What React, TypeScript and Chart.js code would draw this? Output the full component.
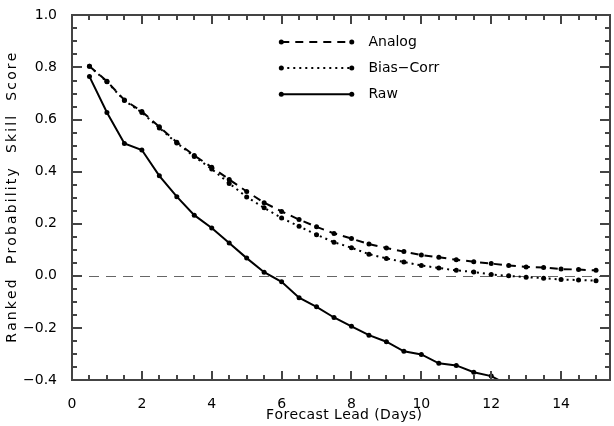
import React, { useEffect, useRef } from 'react';
import { Chart, registerables } from 'chart.js';

Chart.register(...registerables);

// ---- data ----
const leadDays = [0.5, 1, 1.5, 2, 2.5, 3, 3.5, 4, 4.5, 5, 5.5, 6, 6.5, 7, 7.5, 8, 8.5, 9, 9.5, 10, 10.5, 11, 11.5, 12, 12.5, 13, 13.5, 14, 14.5, 15];
const analog = [0.805, 0.747, 0.675, 0.631, 0.572, 0.513, 0.462, 0.417, 0.370, 0.324, 0.281, 0.247, 0.216, 0.188, 0.163, 0.143, 0.122, 0.107, 0.093, 0.080, 0.071, 0.062, 0.054, 0.047, 0.040, 0.034, 0.032, 0.026, 0.024, 0.021];
const biasCorr = [0.805, 0.745, 0.673, 0.627, 0.568, 0.510, 0.458, 0.410, 0.355, 0.303, 0.261, 0.222, 0.190, 0.158, 0.129, 0.108, 0.083, 0.067, 0.053, 0.040, 0.030, 0.021, 0.015, 0.005, 0.000, -0.005, -0.009, -0.014, -0.016, -0.019];
const raw = [0.765, 0.627, 0.508, 0.483, 0.384, 0.304, 0.233, 0.184, 0.126, 0.068, 0.014, -0.023, -0.084, -0.119, -0.160, -0.194, -0.228, -0.253, -0.290, -0.302, -0.336, -0.344, -0.370, -0.385, -0.420, null, null, null, null, null];

const seriesNames = ['Analog', 'Bias\u2212Corr', 'Raw'];
const seriesDashes = [[8, 6], [2, 4], []];

const X_MIN = 0;
const X_MAX = 15.4;
const X_STEP = 2;
const Y_MIN = -0.4;
const Y_MAX = 1.0;
const Y_STEP = 0.2;

const xTitle = 'Forecast Lead (Days)';
const yTitle = 'Ranked  Probability  Skill  Score';

const FONT = '"DejaVu Sans", sans-serif';
const INK = '#000';
const AXIS = '#444';

function fmtY(v: number) {
  const s = Math.abs(v).toFixed(1);
  return v < -1e-9 ? '\u2212' + s : s;
}

// draws text with extra spacing between glyphs so it spans `target` px, centred on (cx, cy)
function drawSpaced(ctx: any, text: string, target: number, cx: number, cy: number) {
  const chars = Array.from(text);
  const widths = chars.map((c) => ctx.measureText(c).width);
  const natural = widths.reduce((s, w) => s + w, 0);
  const gap = chars.length > 1 ? Math.max(0, (target - natural) / (chars.length - 1)) : 0;
  let x = cx - (natural + gap * (chars.length - 1)) / 2;
  ctx.textAlign = 'left';
  chars.forEach((c, i) => {
    ctx.fillText(c, x, cy);
    x += widths[i] + gap;
  });
}

const framePlugin = {
  id: 'frame',
  beforeDatasetsDraw(chart: any) {
    const { ctx, chartArea: a, scales } = chart;
    const y0 = scales.y.getPixelForValue(0);
    ctx.save();
    ctx.strokeStyle = '#666';
    ctx.lineWidth = 1;
    ctx.setLineDash([10, 7]);
    ctx.beginPath();
    ctx.moveTo(a.left, Math.round(y0) + 0.5);
    ctx.lineTo(a.right, Math.round(y0) + 0.5);
    ctx.stroke();
    ctx.restore();
  },
  afterDraw(chart: any) {
    const { ctx, chartArea: a, scales } = chart;
    const xs = scales.x;
    const ys = scales.y;
    const L = Math.round(a.left);
    const R = Math.round(a.right);
    const T = Math.round(a.top);
    const B = Math.round(a.bottom);
    ctx.save();
    ctx.setLineDash([]);
    ctx.fillStyle = AXIS;
    // inward tick marks on all four sides
    for (let i = 0; X_MIN + i * 0.5 <= X_MAX + 1e-9; i++) {
      const px = Math.round(xs.getPixelForValue(X_MIN + i * 0.5));
      const len = i % 4 === 0 ? 9 : 5;
      ctx.fillRect(px - 1, B - len, 2, len);
      ctx.fillRect(px - 1, T, 2, len);
    }
    for (let i = 0; Y_MIN + i * 0.05 <= Y_MAX + 1e-9; i++) {
      const py = Math.round(ys.getPixelForValue(Y_MIN + i * 0.05));
      const len = i % 4 === 0 ? 10 : 5;
      ctx.fillRect(L, py - 1, len, 2);
      ctx.fillRect(R - len, py - 1, len, 2);
    }
    // frame
    ctx.fillRect(L - 1, T - 1, 2, B - T + 2);
    ctx.fillRect(R - 1, T - 1, 2, B - T + 2);
    ctx.fillRect(L - 1, T - 1, R - L + 2, 2);
    ctx.fillRect(L - 1, B - 1, R - L + 2, 2);

    // axis titles
    const w = a.right - a.left;
    const h = a.bottom - a.top;
    ctx.fillStyle = INK;
    ctx.font = '14px ' + FONT;
    ctx.textBaseline = 'middle';
    drawSpaced(ctx, xTitle, 156, a.left + w / 2 + 3, 415);
    ctx.save();
    ctx.translate(12, a.top + h * 0.50);
    ctx.rotate(-Math.PI / 2);
    drawSpaced(ctx, yTitle, 290, 0, 0);
    ctx.restore();

    // legend
    const x1 = a.left + w * 0.389;
    const x2 = a.left + w * 0.520;
    const tx = a.left + w * 0.551;
    ctx.font = '14px ' + FONT;
    ctx.textAlign = 'left';
    seriesNames.forEach((name, k) => {
      const py = a.top + h * (0.073 + k * 0.0715);
      ctx.strokeStyle = INK;
      ctx.lineWidth = 2;
      ctx.setLineDash(seriesDashes[k]);
      ctx.beginPath();
      ctx.moveTo(x1, py);
      ctx.lineTo(x2, py);
      ctx.stroke();
      ctx.setLineDash([]);
      ctx.fillStyle = INK;
      [x1, x2].forEach((mx) => {
        ctx.beginPath();
        ctx.arc(mx, py, 2.5, 0, Math.PI * 2);
        ctx.fill();
      });
      ctx.fillText(name, tx, py);
    });
    ctx.restore();
  },
};

export default function App() {
  const ref = useRef<HTMLCanvasElement | null>(null);
  useEffect(() => {
    if (!ref.current) return;
    const series = [analog, biasCorr, raw];
    const chart = new Chart(ref.current, {
      type: 'line',
      data: {
        datasets: series.map((vals, k) => ({
          label: seriesNames[k],
          data: leadDays.map((d, i) => ({ x: d, y: vals[i] })),
          borderColor: INK,
          backgroundColor: INK,
          borderWidth: 2,
          borderDash: seriesDashes[k],
          pointRadius: 2.5,
          pointBorderWidth: 0,
          pointBackgroundColor: INK,
          fill: false,
          tension: 0,
          spanGaps: false,
        })),
      },
      options: {
        animation: false,
        responsive: false,
        devicePixelRatio: 1,
        layout: { padding: { left: 0, top: 7, right: 2, bottom: 0 } },
        plugins: { legend: { display: false }, tooltip: { enabled: false } },
        scales: {
          x: {
            type: 'linear',
            min: X_MIN,
            max: X_MAX,
            grid: { display: false },
            border: { display: false },
            ticks: {
              stepSize: X_STEP,
              includeBounds: false,
              maxRotation: 0,
              padding: 8,
              color: INK,
              font: { family: FONT, size: 14 },
            },
            title: { display: false },
            afterFit: (s: any) => { s.height = 46; },
          },
          y: {
            type: 'linear',
            min: Y_MIN,
            max: Y_MAX,
            grid: { display: false },
            border: { display: false },
            ticks: {
              stepSize: Y_STEP,
              padding: 7,
              color: INK,
              font: { family: FONT, size: 14 },
              callback: (v: any) => fmtY(Number(v)),
            },
            title: { display: false },
            afterFit: (s: any) => { s.width = 72; },
          },
        },
      },
      plugins: [framePlugin],
    });
    return () => chart.destroy();
  }, []);
  return (
    <div style={{ position: 'fixed', left: 0, top: 0, width: 614, height: 426, background: '#fff' }}>
      <canvas ref={ref} width={614} height={426} style={{ display: 'block' }} />
    </div>
  );
}
